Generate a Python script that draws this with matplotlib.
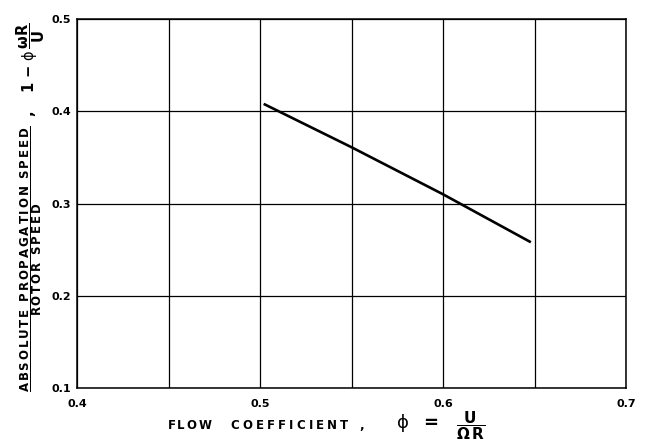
import matplotlib
matplotlib.use("Agg")
import matplotlib.pyplot as plt
from matplotlib.ticker import MultipleLocator

# valores
phi = [0.502, 0.55, 0.60, 0.648]
speed = [0.408, 0.361, 0.310, 0.258]

x_ticks = [0.4, 0.5, 0.6, 0.7]
x_tick_labels = ["0.4", "0.5", "0.6", "0.7"]
y_ticks = [0.1, 0.2, 0.3, 0.4, 0.5]
y_tick_labels = ["0.1", "0.2", "0.3", "0.4", "0.5"]

plt.rcParams["mathtext.fontset"] = "dejavusans"


def spaced(txt, gap=r"\,"):
    # letras separadas, como en el rotulado a mano
    words = [gap.join(w) for w in txt.split()]
    return r"\mathbf{" + r"\ \ ".join(words) + "}"


fig = plt.figure(figsize=(6.49, 4.48), dpi=100)
ax = fig.add_axes([77 / 649, 1 - 388 / 448, 549 / 649, 369 / 448])

# curva
ax.plot(phi, speed, color="black", linewidth=1.9, solid_capstyle="butt")

ax.set_xlim(0.4, 0.7)
ax.set_ylim(0.1, 0.5)

ax.set_xticks(x_ticks)
ax.set_xticklabels(x_tick_labels, fontweight="bold")
ax.set_yticks(y_ticks)
ax.set_yticklabels(y_tick_labels, fontweight="bold")
ax.xaxis.set_minor_locator(MultipleLocator(0.05))

# rejilla
ax.grid(True, which="both", axis="x", color="black", linewidth=0.9)
ax.grid(True, which="major", axis="y", color="black", linewidth=0.9)

ax.tick_params(which="both", length=0)
ax.tick_params(axis="x", pad=8, labelsize=8)
ax.tick_params(axis="y", pad=4, labelsize=8)

for s in ax.spines.values():
    s.set_linewidth(1.1)
    s.set_color("black")

# etiqueta eje x, en tres trozos
fig.text(167 / 649, 1 - 425 / 448,
         "$" + spaced("FLOW", r"\/") + r"\ \ \ \ \ " + spaced("COEFFICIENT", r"\;") + r"\ \ \ \mathbf{,}$",
         ha="left", va="center", fontsize=8.5)
fig.text(396 / 649, 1 - 423 / 448, r"$\mathrm{\phi}\ \ \mathbf{=}$",
         ha="left", va="center", fontsize=13)
fig.text(471 / 649, 1 - 426 / 448, r"$\dfrac{\mathbf{U}}{\mathbf{\Omega\,R}}$",
         ha="center", va="center", fontsize=11)

# etiqueta eje y: fraccion de texto y expresion
frac = "$\\dfrac{" + spaced("ABSOLUTE PROPAGATION SPEED") + "}{" + spaced("ROTOR SPEED") + "}$"
fig.text(31 / 649, 1 - 259 / 448, frac,
         ha="center", va="center", rotation=90, fontsize=8.5)
expr = r"$\mathbf{,}\ \ \ \ \mathbf{1}\ \mathbf{-}\ \mathrm{\phi}\,\dfrac{\mathbf{\omega R}}{\mathbf{U}}$"
fig.text(31 / 649, 1 - 70 / 448, expr,
         ha="center", va="center", rotation=90, fontsize=10.5)

fig.savefig("out.png", dpi=100)
